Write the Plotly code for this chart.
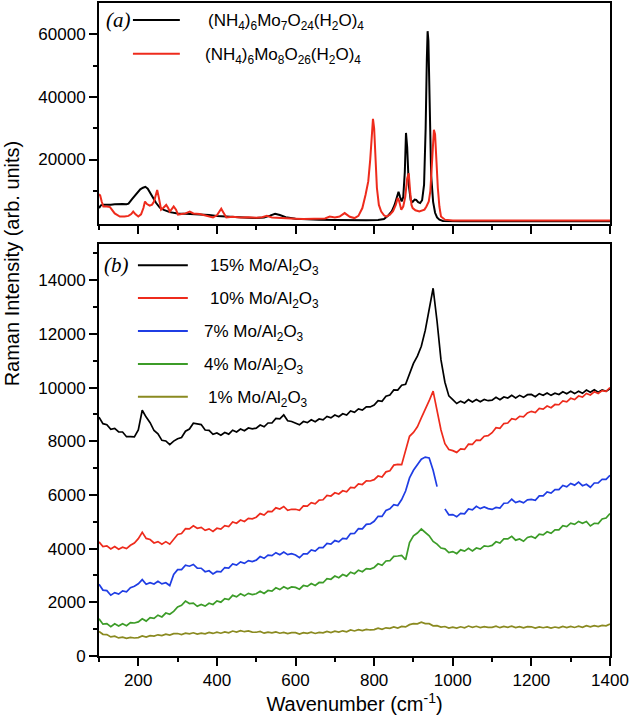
import plotly.graph_objects as go

# ---------------- data ----------------
# Top panel (a): reference compounds
MO7_X = [100, 105, 110, 120, 130, 140, 150, 160, 170, 175,
         185, 195, 205, 212, 218, 224, 230, 237, 245, 255,
         265, 280, 300, 320, 340, 360, 380, 400, 420, 440,
         460, 480, 500, 520, 535, 548, 560, 575, 600, 630,
         660, 700, 740, 780, 810, 825, 835, 845, 852, 858,
         862, 866, 870, 874, 878, 881, 884, 888, 893, 898,
         903, 907, 912, 917, 922, 927, 931, 934, 936, 938,
         941, 945, 950, 955, 960, 966, 975, 990, 1020, 1080,
         1150, 1250, 1350, 1400]
MO7_Y = [4500, 5400, 5600, 5500, 5600, 5700, 5800, 5800, 5700, 5900,
         7500, 9000, 10500, 11000, 11300, 10700, 9300, 7800, 6200, 4600,
         3900, 3200, 2800, 2700, 2600, 2500, 2300, 2000, 1800, 1700,
         1600, 1400, 1300, 1500, 2100, 2700, 2300, 1600, 1100, 900,
         800, 700, 600, 600, 700, 1000, 2000, 3500, 5500, 8500,
         9700, 8000, 6600, 8000, 16000, 28500, 24000, 12000, 7000, 6500,
         7200, 7100, 6400, 6100, 7000, 12000, 30000, 52000, 61000, 58000,
         38000, 15000, 6500, 3000, 1500, 800, 400, 300, 300, 300,
         300, 300, 300, 300]

MO8_X = [100, 103, 107, 111, 120, 128, 140, 153, 165, 175,
         182, 187, 193, 200, 207, 213, 217, 222, 229, 235,
         240, 244, 248, 252, 258, 264, 271, 276, 280, 285,
         290, 296, 301, 310, 320, 331, 340, 356, 370, 380,
         390, 400, 406, 411, 416, 424, 440, 460, 480, 500,
         515, 527, 540, 560, 580, 600, 620, 640, 660, 675,
         687, 700, 712, 725, 738, 750, 760, 770, 778, 785,
         790, 794, 797, 800, 804, 807, 812, 818, 825, 831,
         840, 848, 855, 860, 863, 866, 869, 874, 879, 884,
         888, 892, 895, 898, 905, 915, 922, 928, 933, 939,
         943, 947, 950, 952, 955, 958, 962, 966, 970, 980,
         1000, 1050, 1150, 1250, 1350, 1400]
MO8_Y = [9000, 8500, 6500, 5000, 5000, 4800, 2800, 1800, 1800, 2000,
         2600, 3400, 2500, 1800, 2500, 4500, 6600, 5800, 5300, 5600,
         6600, 8500, 10300, 8000, 4000, 4600, 5500, 4500, 3400, 4200,
         5000, 4000, 2400, 2600, 2800, 3400, 2800, 2600, 2200, 1800,
         1500, 2200, 3500, 4300, 3200, 1500, 1700, 1500, 1600, 1400,
         1600, 2000, 1500, 1300, 1200, 1100, 1000, 1100, 1000, 1200,
         1800, 1500, 1800, 2900, 1700, 1300, 2000, 4500, 8700, 13000,
         20000, 28000, 33000, 30000, 18000, 10900, 5500, 3400, 2200, 1800,
         2400, 3500, 5500, 7700, 7000, 5200, 4000, 5000, 8000, 14000,
         15600, 9000, 5500, 4500, 3800, 3400, 3600, 4000, 5000, 6600,
         10000, 20000, 27000, 29500, 28000, 18000, 10900, 5000, 1800, 800,
         500, 500, 500, 500, 500, 500]

# Bottom panel (b): supported catalysts, sampled every 10 cm-1 from 100 to 1400
WAVENUMBER = list(range(100, 1401, 10))

MO15 = [8900, 8655, 8615, 8445, 8480, 8345, 8345, 8170, 8175, 8160,
        8420, 9155, 8900, 8690, 8400, 8280, 8035, 8010, 7875, 8005,
        8095, 8140, 8375, 8455, 8670, 8650, 8620, 8420, 8405, 8260,
        8310, 8225, 8325, 8265, 8410, 8345, 8455, 8390, 8495, 8460,
        8490, 8605, 8540, 8680, 8680, 8850, 8835, 8980, 8765, 8735,
        8685, 8610, 8735, 8695, 8800, 8730, 8830, 8800, 8925, 8870,
        8980, 8915, 9025, 8975, 9130, 9075, 9205, 9160, 9285, 9280,
        9350, 9515, 9490, 9680, 9720, 9910, 9905, 10090, 10125, 10535,
        10900, 11170, 11540, 12130, 12950, 13700, 12470, 11030, 10200, 9690,
        9550, 9405, 9495, 9425, 9550, 9465, 9555, 9470, 9555, 9510,
        9530, 9635, 9550, 9650, 9610, 9710, 9615, 9710, 9635, 9735,
        9745, 9660, 9775, 9715, 9800, 9710, 9790, 9740, 9845, 9770,
        9860, 9775, 9865, 9785, 9910, 9825, 9915, 9830, 9915, 9860,
        9960]
MO10 = [4250, 4075, 4105, 3985, 4080, 3975, 4055, 4000, 4125, 4210,
        4370, 4605, 4380, 4340, 4210, 4260, 4165, 4260, 4165, 4355,
        4525, 4560, 4745, 4735, 4850, 4760, 4790, 4680, 4735, 4640,
        4760, 4725, 4855, 4825, 4990, 4945, 5065, 5010, 5125, 5110,
        5170, 5305, 5250, 5390, 5380, 5520, 5475, 5570, 5425, 5465,
        5465, 5430, 5595, 5585, 5710, 5670, 5810, 5820, 5985, 5960,
        6080, 6035, 6155, 6115, 6280, 6265, 6415, 6390, 6525, 6520,
        6570, 6705, 6670, 6860, 6900, 7110, 7135, 7130, 7665, 8185,
        8330, 8540, 8870, 9160, 9510, 9870, 9190, 8420, 7910, 7690,
        7650, 7585, 7715, 7695, 7890, 7885, 8045, 8030, 8185, 8210,
        8320, 8505, 8480, 8660, 8680, 8840, 8805, 8930, 8905, 9055,
        9115, 9070, 9225, 9195, 9310, 9250, 9370, 9360, 9505, 9470,
        9600, 9555, 9685, 9645, 9780, 9725, 9845, 9780, 9885, 9860,
        10000]
MO7 = [2670, 2455, 2435, 2265, 2360, 2305, 2425, 2390, 2545, 2600,
       2690, 2845, 2670, 2730, 2680, 2780, 2685, 2730, 2625, 3035,
       3215, 3220, 3385, 3345, 3410, 3270, 3270, 3140, 3175, 3060,
       3150, 3135, 3295, 3275, 3430, 3385, 3505, 3450, 3555, 3520,
       3570, 3705, 3640, 3760, 3740, 3850, 3775, 3870, 3775, 3815,
       3765, 3660, 3805, 3805, 3950, 3910, 4040, 4040, 4195, 4170,
       4300, 4255, 4385, 4365, 4560, 4565, 4745, 4740, 4905, 4920,
       5020, 5205, 5200, 5420, 5480, 5640, 5605, 5830, 6145, 6635,
       6920, 7120, 7330, 7410, 7380, 6920, 6310, None, 5480, 5260,
       5270, 5185, 5315, 5295, 5480, 5445, 5575, 5490, 5555, 5490,
       5460, 5535, 5510, 5690, 5700, 5840, 5715, 5770, 5705, 5815,
       5835, 5800, 5965, 5965, 6110, 6070, 6200, 6200, 6355, 6300,
       6430, 6365, 6475, 6345, 6400, 6285, 6445, 6450, 6585, 6580,
       6730]
MO4 = [1390, 1185, 1205, 1095, 1200, 1115, 1205, 1130, 1245, 1230,
       1270, 1385, 1300, 1430, 1400, 1520, 1455, 1600, 1555, 1665,
       1825, 1890, 2045, 1955, 1970, 1850, 1920, 1860, 1965, 1920,
       2050, 2005, 2135, 2105, 2260, 2205, 2315, 2240, 2335, 2290,
       2320, 2415, 2330, 2440, 2420, 2540, 2475, 2580, 2505, 2575,
       2555, 2490, 2625, 2595, 2700, 2630, 2740, 2730, 2885, 2860,
       2980, 2915, 3035, 2975, 3120, 3065, 3195, 3140, 3255, 3240,
       3300, 3435, 3380, 3540, 3550, 3710, 3725, 3750, 3585, 4225,
       4480, 4580, 4730, 4600, 4480, 4270, 4170, 4020, 3990, 3850,
       3890, 3815, 3955, 3905, 4010, 3915, 4025, 3980, 4105, 4080,
       4120, 4255, 4210, 4360, 4360, 4460, 4315, 4360, 4275, 4415,
       4455, 4390, 4535, 4515, 4630, 4570, 4700, 4700, 4855, 4820,
       4950, 4905, 5015, 4945, 5010, 4845, 4945, 4930, 5105, 5140,
       5310]
MO1 = [915, 808, 798, 712, 740, 672, 702, 655, 692, 670,
       685, 748, 705, 760, 740, 790, 758, 815, 782, 833,
       838, 800, 852, 823, 865, 815, 850, 825, 878, 840,
       885, 848, 898, 862, 930, 892, 942, 905, 932, 890,
       885, 913, 850, 890, 860, 900, 848, 880, 832, 873,
       868, 820, 872, 843, 885, 840, 880, 860, 913, 875,
       925, 888, 938, 902, 970, 932, 982, 945, 992, 970,
       985, 1038, 995, 1050, 1030, 1080, 1043, 1100, 1082, 1168,
       1208, 1200, 1262, 1208, 1205, 1125, 1130, 1075, 1098, 1040,
       1075, 1038, 1088, 1052, 1115, 1067, 1107, 1060, 1097, 1065,
       1065, 1108, 1055, 1100, 1070, 1110, 1058, 1095, 1047, 1093,
       1088, 1040, 1087, 1053, 1085, 1040, 1080, 1050, 1103, 1060,
       1105, 1063, 1108, 1067, 1130, 1087, 1132, 1095, 1142, 1125,
       1190]

TOP_NAMES = ["(NH<sub>4</sub>)<sub>6</sub>Mo<sub>7</sub>O<sub>24</sub>(H<sub>2</sub>O)<sub>4</sub>",
             "(NH<sub>4</sub>)<sub>6</sub>Mo<sub>8</sub>O<sub>26</sub>(H<sub>2</sub>O)<sub>4</sub>"]
BOTTOM_NAMES = ["15% Mo/Al<sub>2</sub>O<sub>3</sub>", "10% Mo/Al<sub>2</sub>O<sub>3</sub>",
                "7% Mo/Al<sub>2</sub>O<sub>3</sub>", "4% Mo/Al<sub>2</sub>O<sub>3</sub>",
                "1% Mo/Al<sub>2</sub>O<sub>3</sub>"]

assert len(MO7_X) == len(MO7_Y)
assert len(MO8_X) == len(MO8_Y)
for s in (MO15, MO10, MO7, MO4, MO1):
    assert len(s) == len(WAVENUMBER)

# ---------------- styling ----------------
TOP_COLORS = ["#000000", "#ee2b1c"]
BOT_COLORS = ["#000000", "#ee2b1c", "#1f3de4", "#3c9c28", "#8a8a20"]
FONT = "Liberation Sans, Arial, sans-serif"
SERIF = "Liberation Serif, Times New Roman, serif"

W, H = 630, 715
ML, MR, MT, MB = 99, 19, 1, 59
PW, PH = W - ML - MR, H - MT - MB


def px(xp):
    return (xp - ML) / PW


def py(yp):
    return (H - MB - yp) / PH


fig = go.Figure()

for xs, ys, name, c in zip((MO7_X, MO8_X), (MO7_Y, MO8_Y), TOP_NAMES, TOP_COLORS):
    fig.add_trace(go.Scatter(x=xs, y=ys, mode="lines", name=name,
                             line=dict(color=c, width=2), xaxis="x2", yaxis="y2",
                             showlegend=False))

for ys, name, c in zip((MO15, MO10, MO7, MO4, MO1), BOTTOM_NAMES, BOT_COLORS):
    fig.add_trace(go.Scatter(x=WAVENUMBER, y=ys, mode="lines", name=name,
                             line=dict(color=c, width=1.7), xaxis="x", yaxis="y",
                             connectgaps=False, showlegend=False))

axis_common = dict(showline=True, linecolor="black", linewidth=2, mirror=True,
                   ticks="outside", ticklen=8, tickwidth=1.5, tickcolor="black",
                   showgrid=False, zeroline=False, tickformat="d",
                   tickfont=dict(family=FONT, size=17, color="black"))

fig.update_layout(
    width=W, height=H,
    margin=dict(l=ML, r=MR, t=MT, b=MB),
    paper_bgcolor="white", plot_bgcolor="white",
    font=dict(family=FONT, color="black"),
    xaxis=dict(axis_common, domain=[0, 1], anchor="y", range=[100, 1400],
               tick0=0, dtick=200,
               minor=dict(dtick=100, ticks="outside", ticklen=4, tickwidth=1.5, tickcolor="black"),
               title=dict(text="Wavenumber (cm<sup>-1</sup>)", font=dict(family=FONT, size=20),
                          standoff=4)),
    yaxis=dict(axis_common, domain=[0, 0.631], anchor="x", range=[0, 15350],
               tickvals=[0, 2000, 4000, 6000, 8000, 10000, 12000, 14000],
               minor=dict(dtick=1000, ticks="outside", ticklen=4, tickwidth=1.5, tickcolor="black")),
    xaxis2=dict(axis_common, domain=[0, 1], anchor="y2", range=[100, 1400],
                tick0=0, dtick=200, showticklabels=False,
                minor=dict(dtick=100, ticks="outside", ticklen=4, tickwidth=1.5, tickcolor="black")),
    yaxis2=dict(axis_common, domain=[0.6615, 1], anchor="x2", range=[-600, 70000],
                tickvals=[20000, 40000, 60000],
                minor=dict(tickvals=[10000, 30000, 50000], ticks="outside", ticklen=4,
                           tickwidth=1.5, tickcolor="black")),
)

# y-axis title spanning both panels
fig.add_annotation(text="Raman Intensity (arb. units)", textangle=-90,
                   xref="paper", yref="paper", x=px(12), y=py(262),
                   xanchor="center", yanchor="middle", showarrow=False,
                   font=dict(family=FONT, size=20, color="black"))

# panel labels
fig.add_annotation(text="<i>(a)</i>", xref="paper", yref="paper", x=px(119), y=py(18),
                   xanchor="center", yanchor="middle",
                   showarrow=False, font=dict(family=SERIF, size=21, color="black"))
fig.add_annotation(text="<i>(b)</i>", xref="paper", yref="paper", x=px(117), y=py(264),
                   xanchor="center", yanchor="middle",
                   showarrow=False, font=dict(family=SERIF, size=21, color="black"))

# legend (a)
for i, (name, c) in enumerate(zip(TOP_NAMES, TOP_COLORS)):
    yy = [18, 52][i]
    fig.add_shape(type="line", xref="paper", yref="paper", x0=px(133), x1=px(180),
                  y0=py(yy), y1=py(yy), line=dict(color=c, width=2))
    fig.add_annotation(text=name, xref="paper", yref="paper", x=px([206, 203][i]), y=py(yy + 2),
                       xanchor="left", yanchor="middle", showarrow=False,
                       font=dict(family=FONT, size=17, color="black"))

# legend (b)
for i, (name, c) in enumerate(zip(BOTTOM_NAMES, BOT_COLORS)):
    yy = [264, 297, 330, 363, 396][i]
    fig.add_shape(type="line", xref="paper", yref="paper", x0=px(138), x1=px(188),
                  y0=py(yy), y1=py(yy), line=dict(color=c, width=2))
    fig.add_annotation(text=name, xref="paper", yref="paper", x=px([208, 208, 202, 202, 206][i]),
                       y=py(yy + 2), xanchor="left", yanchor="middle", showarrow=False,
                       font=dict(family=FONT, size=17, color="black"))

fig.write_html("out.html", config={"displayModeBar": False},
               post_script="document.body.style.margin='0px';")
